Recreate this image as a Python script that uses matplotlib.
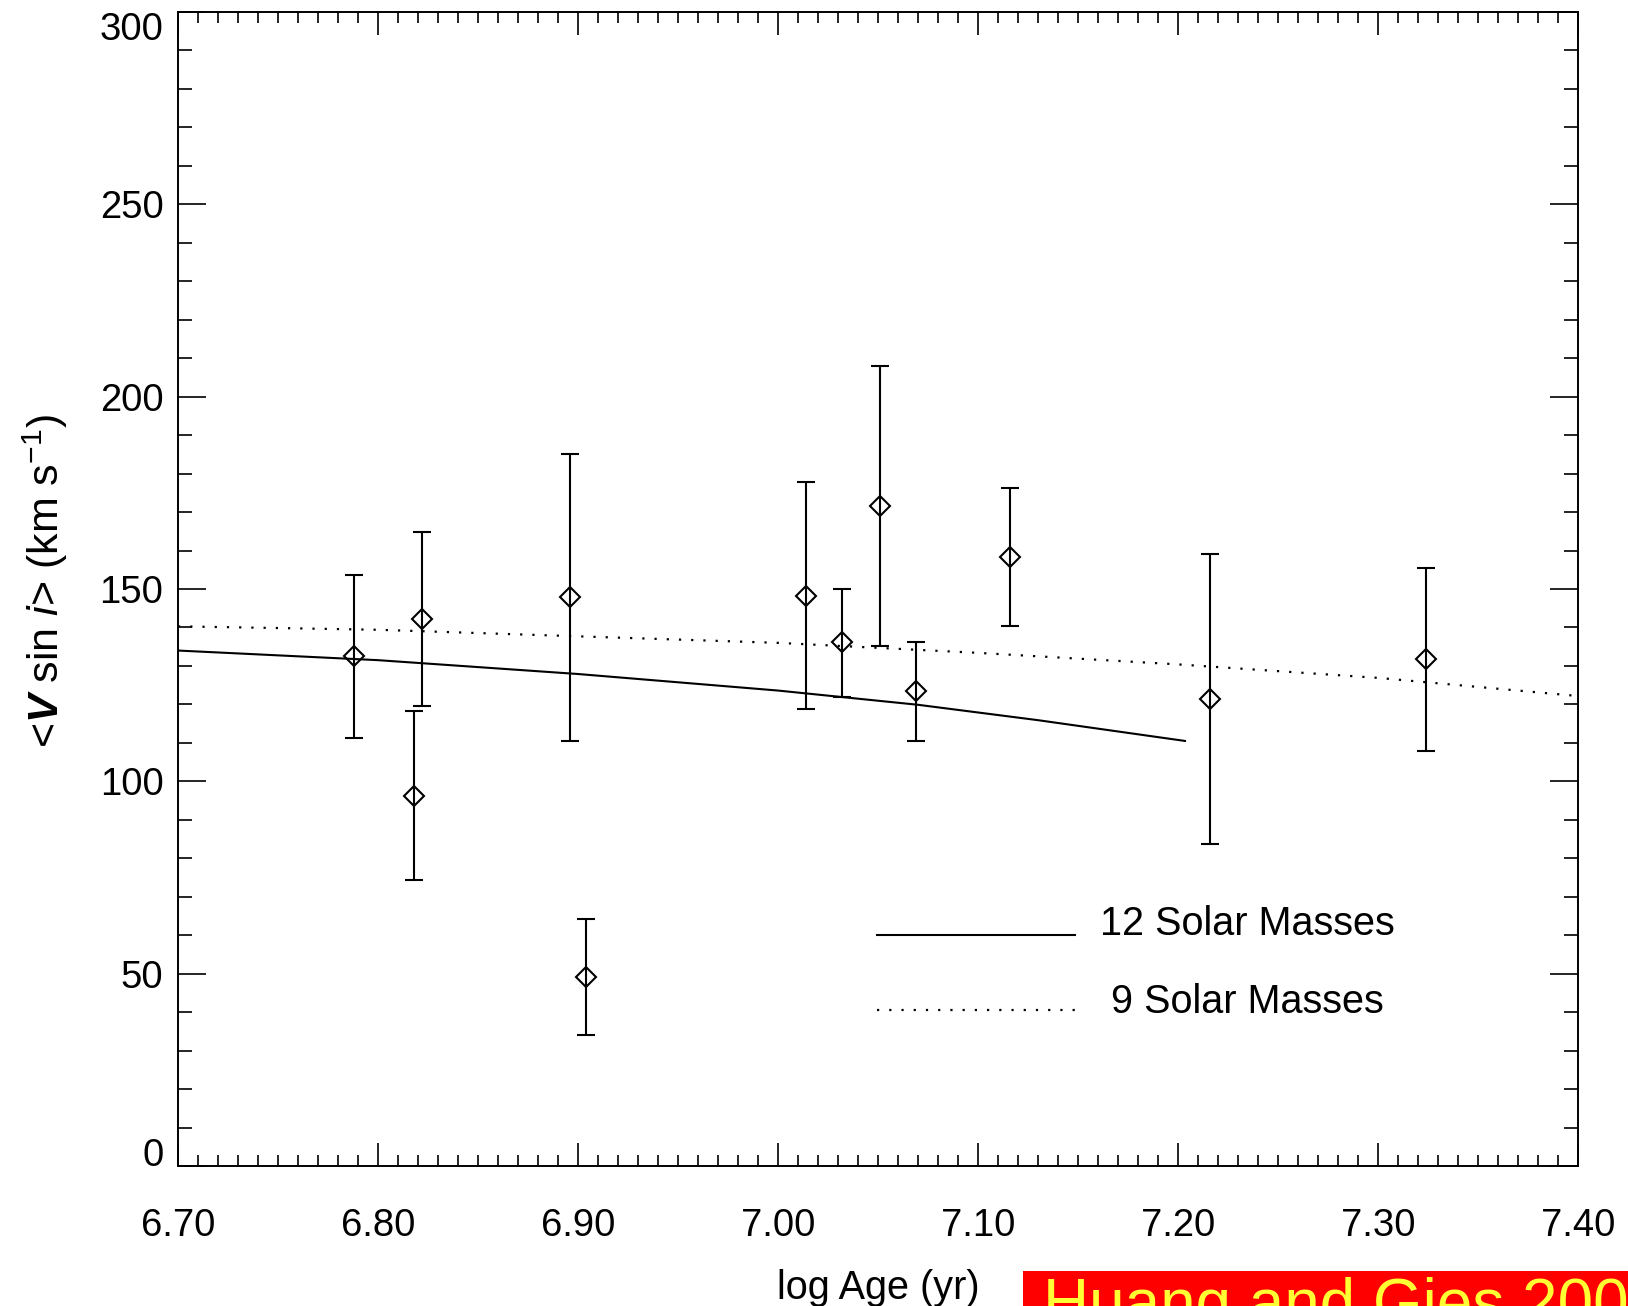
import numpy as np
import matplotlib
matplotlib.use('Agg')
import matplotlib.pyplot as plt
from matplotlib.patches import Rectangle
from matplotlib.ticker import MultipleLocator, FormatStrFormatter

# ---- cluster mean v sin i against age ----
log_age  = [6.788, 6.822, 6.818, 6.896, 6.904, 7.014, 7.032, 7.051, 7.069, 7.116, 7.216, 7.324]
vsini    = [132.5, 142.3,  96.2, 147.8,  49.2, 148.2, 136.1, 171.5, 123.4, 158.3, 121.5, 131.8]
vsini_hi = [153.7, 164.8, 118.2, 185.0,  64.2, 177.8, 150.1, 208.1, 136.1, 176.3, 159.1, 155.4]
vsini_lo = [111.2, 119.6,  74.4, 110.6,  34.1, 118.8, 121.9, 135.1, 110.6, 140.4,  83.7, 107.8]

# ---- spin-down model tracks ----
age_12m = [6.70, 6.80, 6.90, 7.00, 7.07, 7.13, 7.2035]
vel_12m = [134.0, 131.5, 127.9, 123.6, 119.9, 115.9, 110.5]
age_9m  = [6.70, 6.80, 6.90, 7.00, 7.10, 7.20, 7.30, 7.3975]
vel_9m  = [140.3, 139.4, 137.7, 136.0, 133.4, 130.4, 126.9, 122.3]

labels = ['12 Solar Masses', '9 Solar Masses']

plt.rcParams['font.family'] = ['Liberation Sans', 'DejaVu Sans']
plt.rcParams['mathtext.fontset'] = 'custom'
plt.rcParams['mathtext.rm'] = 'Liberation Sans'
plt.rcParams['mathtext.it'] = 'Liberation Sans:italic'
plt.rcParams['mathtext.bf'] = 'Liberation Sans:bold'
plt.rcParams['mathtext.bfit'] = 'Liberation Sans:bold:italic'

fig = plt.figure(figsize=(16.28, 13.06), dpi=100)
ax = fig.add_axes([178/1628, 140/1306, 1400/1628, 1154/1306])

dotted = (0, (1, 4.5))
ax.plot(age_12m, vel_12m, color='k', lw=1.5)
ax.plot(age_9m, vel_9m, color='k', lw=1.6, linestyle=dotted)

x = np.array(log_age)
y = np.array(vsini)
yerr = np.vstack([y - np.array(vsini_lo), np.array(vsini_hi) - y])
ax.errorbar(x, y, yerr=yerr, fmt='D', ms=10, mfc='none', mec='k', mew=1.5,
            ecolor='k', elinewidth=1.5, capsize=6.5, capthick=1.5, color='k')

# legend drawn by hand, centred text to the right of each sample line
ax.plot([0.499, 0.641], [0.2006, 0.2006], transform=ax.transAxes, color='k', lw=1.5)
ax.plot([0.499, 0.641], [0.135, 0.135], transform=ax.transAxes, color='k', lw=1.6,
        linestyle=dotted)
ax.text(0.7636, 0.2097, labels[0], transform=ax.transAxes, ha='center', va='center', fontsize=28.5)
ax.text(0.7636, 0.142, labels[1], transform=ax.transAxes, ha='center', va='center', fontsize=28.5)

ax.set_xlim(6.70, 7.40)
ax.set_ylim(0, 300)
ax.xaxis.set_major_locator(MultipleLocator(0.1))
ax.xaxis.set_minor_locator(MultipleLocator(0.01))
ax.xaxis.set_major_formatter(FormatStrFormatter('%.2f'))
ax.yaxis.set_major_locator(MultipleLocator(50))
ax.yaxis.set_minor_locator(MultipleLocator(10))

ax.tick_params(which='both', direction='in', top=True, right=True, width=1.2, labelsize=27.5)
ax.tick_params(axis='x', which='major', length=16.5, pad=30)
ax.tick_params(axis='x', which='minor', length=8)
ax.tick_params(axis='y', which='major', length=20, pad=10.5)
ax.tick_params(axis='y', which='minor', length=10)
for sp in ax.spines.values():
    sp.set_linewidth(1.4)

ax.set_xlabel('log Age (yr)', fontsize=28.5, labelpad=18)
ax.set_ylabel(r'<$\mathbfit{V}$ sin $\mathit{i}$> (km s$^{\mathregular{-1}}$)', fontsize=31)
ax.yaxis.set_label_coords(-0.077, 0.507)

# keep the end labels of the y axis inside the frame
fig.canvas.draw()
for lab in ax.get_yticklabels():
    if lab.get_text() == '0':
        lab.set_verticalalignment('baseline')
    elif lab.get_text() == '300':
        lab.set_verticalalignment('top')

# source tag in the lower right corner
fig.patches.append(Rectangle((1023/1628, 0), 605/1628, 35/1306, transform=fig.transFigure,
                             facecolor='#ff0000', edgecolor='none'))
fig.text(1043/1628, -0.014, 'Huang and Gies 2006', color='#ffff33', fontsize=46, va='baseline')

fig.savefig('out.png', dpi=100)
